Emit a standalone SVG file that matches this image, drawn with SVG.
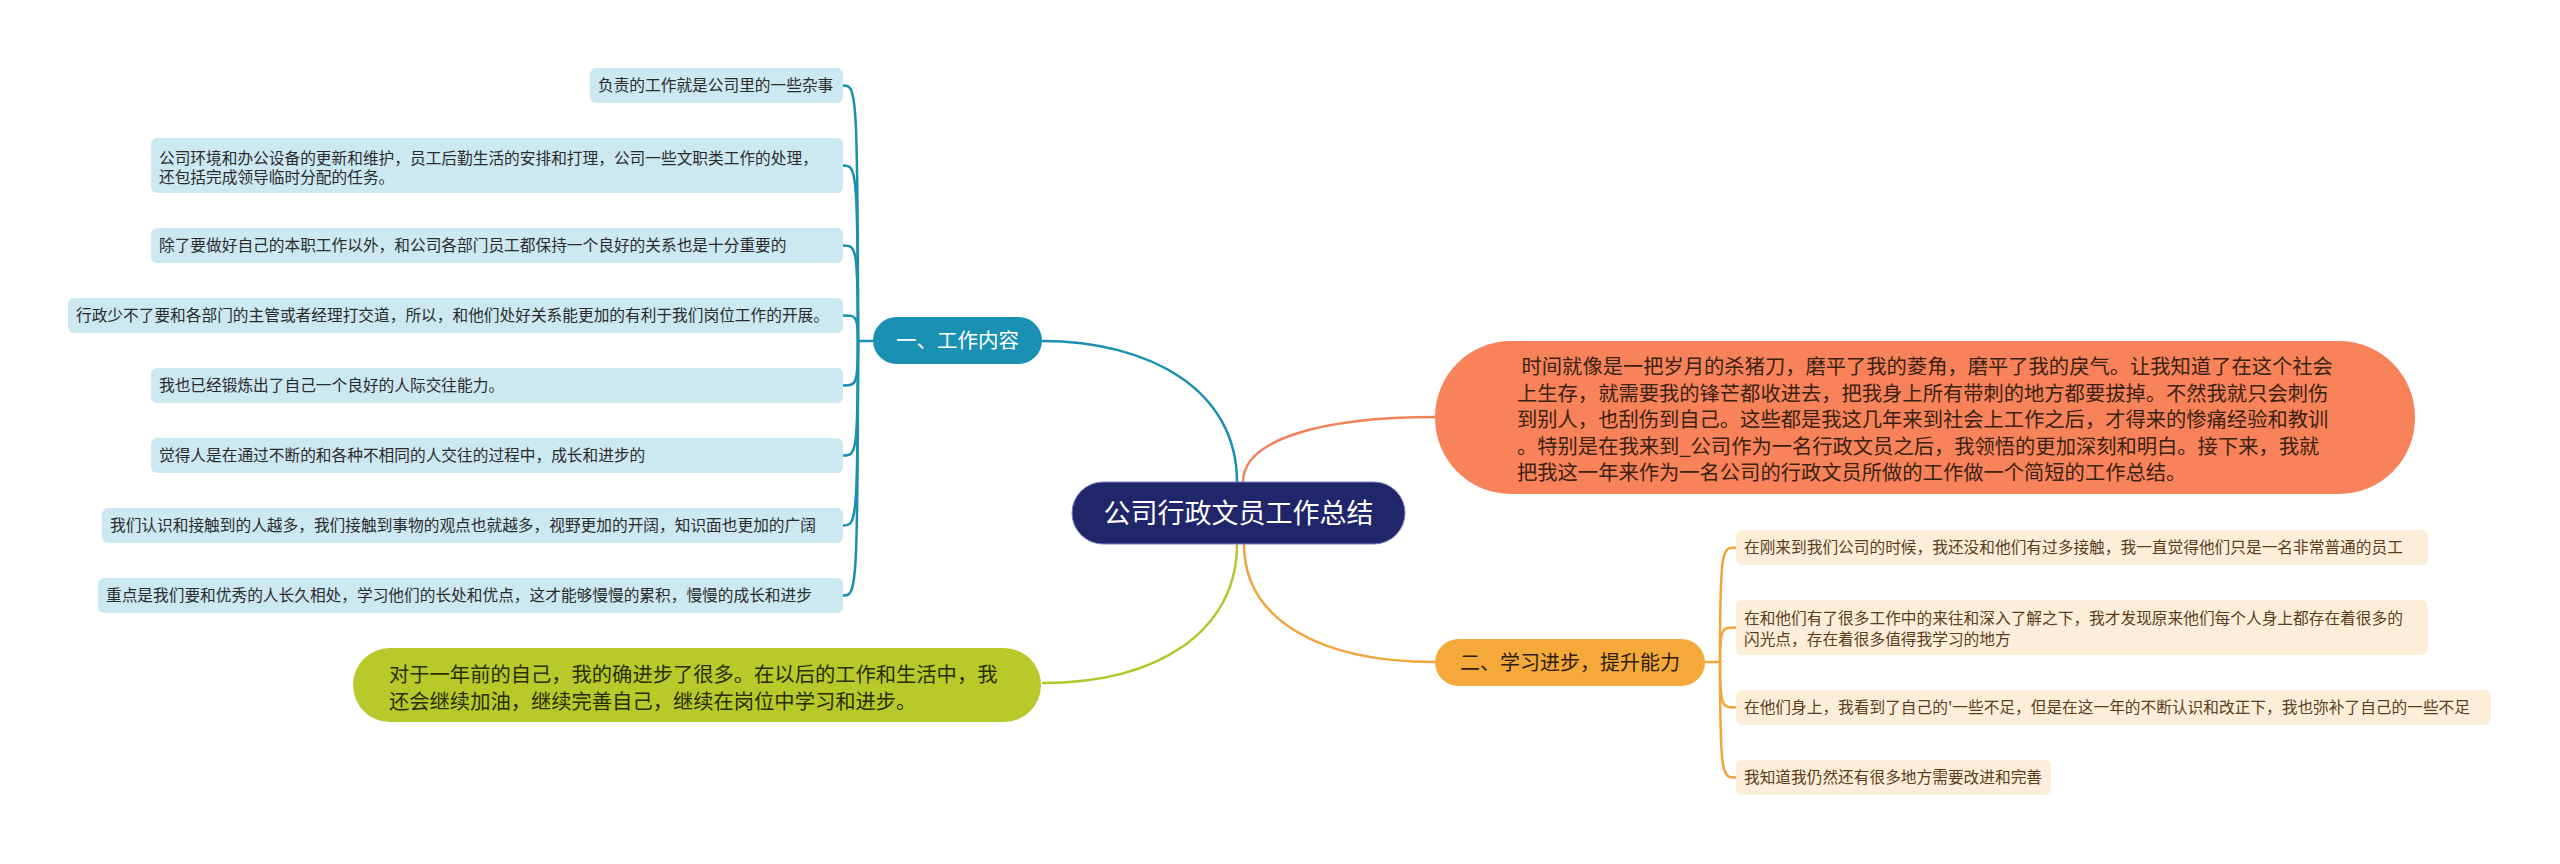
<svg xmlns="http://www.w3.org/2000/svg" width="2560" height="864" viewBox="0 0 2560 864">
<style>
.t{font-family:"Noto Sans CJK SC","Noto Sans",sans-serif}
.lc rect{fill:#CCE8F1}
.lc text{font-size:15.7px;fill:#2b2b2b}
.rc rect{fill:#FDEEDA}
.rc text{font-size:15.7px;fill:#5a3d1c}
.cb{fill:none;stroke:#1A8FB0;stroke-width:2.5}
.co{fill:none;stroke:#F08158;stroke-width:2.5}
.cg{fill:none;stroke:#B3C72A;stroke-width:2.5}
.cy{fill:none;stroke:#F2A53C;stroke-width:2.5}
</style>
<rect width="2560" height="864" fill="#ffffff"/>
<g id="connectors">
<path class="cb" d="M1042,341 C1150,341 1237,390 1237,482"/>
<path class="co" d="M1243,482 C1243,440 1320,417 1435,417"/>
<path class="cg" d="M1237,544 C1237,630 1160,683 1042,683"/>
<path class="cy" d="M1244,544 C1244,620 1320,662 1435,662"/>
<path class="cb" d="M873,341 L858,341"/>
<path class="cb" d="M858,341 C858,85.5 856,85.5 843,85.5"/>
<path class="cb" d="M858,341 C858,165.5 856,165.5 843,165.5"/>
<path class="cb" d="M858,341 C858,245.5 856,245.5 843,245.5"/>
<path class="cb" d="M858,341 C858,315.5 856,315.5 843,315.5"/>
<path class="cb" d="M858,341 C858,385.5 856,385.5 843,385.5"/>
<path class="cb" d="M858,341 C858,455.5 856,455.5 843,455.5"/>
<path class="cb" d="M858,341 C858,525.5 856,525.5 843,525.5"/>
<path class="cb" d="M858,341 C858,595.5 856,595.5 843,595.5"/>
<path class="cy" d="M1705,662 L1720,662"/>
<path class="cy" d="M1720,662 C1720,547.5 1722,547.5 1736,547.5"/>
<path class="cy" d="M1720,662 C1720,627.5 1722,627.5 1736,627.5"/>
<path class="cy" d="M1720,662 C1720,707.5 1722,707.5 1736,707.5"/>
<path class="cy" d="M1720,662 C1720,777.5 1722,777.5 1736,777.5"/>
</g>
<g id="root">
<rect x="1072" y="482" width="333" height="62" rx="31" fill="#21266B" stroke="#7d83c0" stroke-width="1"/>
<text class="t" x="1238.5" y="522.5" text-anchor="middle" font-size="27" fill="#ffffff">公司行政文员工作总结</text>
</g>
<g id="branch-work">
<rect x="873" y="317" width="169" height="47" rx="23.5" fill="#1A90B2"/>
<text class="t" x="957.5" y="348" text-anchor="middle" font-size="20.5" fill="#ffffff">一、工作内容</text>
</g>
<g id="branch-study">
<rect x="1435" y="639" width="270" height="47" rx="23.5" fill="#F6A93B"/>
<text class="t" x="1570" y="669.5" text-anchor="middle" font-size="20" fill="#2e2010">二、学习进步，提升能力</text>
</g>
<g id="intro">
<rect x="1435" y="341" width="980" height="153" rx="76" fill="#F8825A"/>
<text class="t" font-size="20.3" fill="#3a2212">
<tspan x="1517" y="374" xml:space="preserve"> 时间就像是一把岁月的杀猪刀，磨平了我的菱角，磨平了我的戾气。让我知道了在这个社会</tspan>
<tspan x="1517" y="400.5">上生存，就需要我的锋芒都收进去，把我身上所有带刺的地方都要拔掉。不然我就只会刺伤</tspan>
<tspan x="1517" y="427">到别人，也刮伤到自己。这些都是我这几年来到社会上工作之后，才得来的惨痛经验和教训</tspan>
<tspan x="1517" y="453.5">。特别是在我来到_公司作为一名行政文员之后，我领悟的更加深刻和明白。接下来，我就</tspan>
<tspan x="1517" y="480">把我这一年来作为一名公司的行政文员所做的工作做一个简短的工作总结。</tspan>
</text>
</g>
<g id="conclusion">
<rect x="353" y="648" width="688" height="74" rx="37" fill="#B7CA2A"/>
<text class="t" font-size="20.3" fill="#2a2e05">
<tspan x="389" y="682">对于一年前的自己，我的确进步了很多。在以后的工作和生活中，我</tspan>
<tspan x="389" y="709">还会继续加油，继续完善自己，继续在岗位中学习和进步。</tspan>
</text>
</g>
<g id="w1" class="lc t"><rect x="590" y="68" width="253" height="35" rx="6"/><text x="598" y="91">负责的工作就是公司里的一些杂事</text></g>
<g id="w2" class="lc t"><rect x="151" y="138" width="692" height="55" rx="6"/><text><tspan x="159" y="163.5">公司环境和办公设备的更新和维护，员工后勤生活的安排和打理，公司一些文职类工作的处理，</tspan><tspan x="159" y="182.5">还包括完成领导临时分配的任务。</tspan></text></g>
<g id="w3" class="lc t"><rect x="151" y="228" width="692" height="35" rx="6"/><text x="159" y="251">除了要做好自己的本职工作以外，和公司各部门员工都保持一个良好的关系也是十分重要的</text></g>
<g id="w4" class="lc t"><rect x="68" y="298" width="775" height="35" rx="6"/><text x="76" y="321">行政少不了要和各部门的主管或者经理打交道，所以，和他们处好关系能更加的有利于我们岗位工作的开展。</text></g>
<g id="w5" class="lc t"><rect x="151" y="368" width="692" height="35" rx="6"/><text x="159" y="391">我也已经锻炼出了自己一个良好的人际交往能力。</text></g>
<g id="w6" class="lc t"><rect x="151" y="438" width="692" height="35" rx="6"/><text x="159" y="461">觉得人是在通过不断的和各种不相同的人交往的过程中，成长和进步的</text></g>
<g id="w7" class="lc t"><rect x="102" y="508" width="741" height="35" rx="6"/><text x="110" y="531">我们认识和接触到的人越多，我们接触到事物的观点也就越多，视野更加的开阔，知识面也更加的广阔</text></g>
<g id="w8" class="lc t"><rect x="98" y="578" width="745" height="35" rx="6"/><text x="106" y="601">重点是我们要和优秀的人长久相处，学习他们的长处和优点，这才能够慢慢的累积，慢慢的成长和进步</text></g>
<g id="s1" class="rc t"><rect x="1736" y="530" width="692" height="35" rx="6"/><text x="1744" y="553">在刚来到我们公司的时候，我还没和他们有过多接触，我一直觉得他们只是一名非常普通的员工</text></g>
<g id="s2" class="rc t"><rect x="1736" y="600" width="692" height="55" rx="6"/><text><tspan x="1744" y="623.5">在和他们有了很多工作中的来往和深入了解之下，我才发现原来他们每个人身上都存在着很多的</tspan><tspan x="1744" y="644.5">闪光点，存在着很多值得我学习的地方</tspan></text></g>
<g id="s3" class="rc t"><rect x="1736" y="690" width="755" height="35" rx="6"/><text x="1744" y="713">在他们身上，我看到了自己的'一些不足，但是在这一年的不断认识和改正下，我也弥补了自己的一些不足</text></g>
<g id="s4" class="rc t"><rect x="1736" y="760" width="315" height="35" rx="6"/><text x="1744" y="783">我知道我仍然还有很多地方需要改进和完善</text></g>
</svg>
